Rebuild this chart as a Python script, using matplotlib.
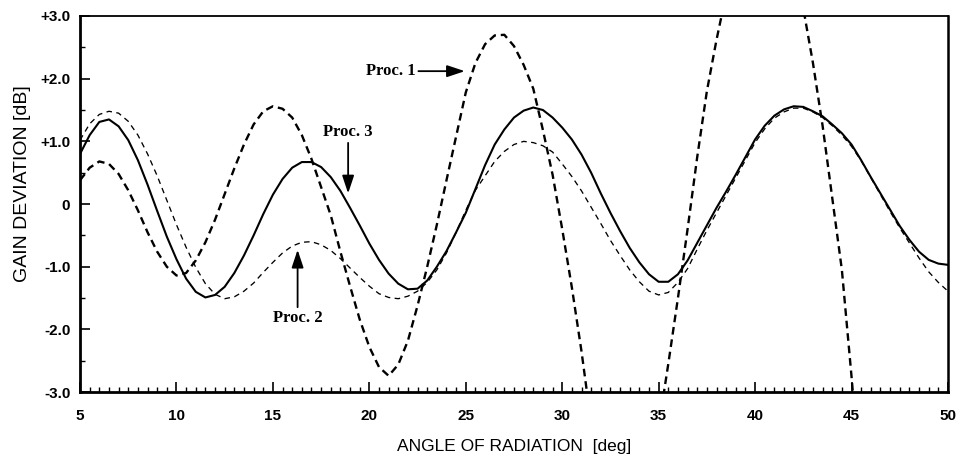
import numpy as np
import matplotlib.pyplot as plt
from matplotlib.ticker import MultipleLocator

plt.rcParams["lines.scale_dashes"] = False

# angle grid the curves were read on (deg)
angle = np.arange(5.0, 50.5, 0.5)

# Proc. 1 - thick dashed, runs off the axes between 31 and 45 deg
proc1 = [0.38, 0.58, 0.68, 0.64, 0.48, 0.22, -0.10, -0.45, -0.76, -1.00,
         -1.14, -1.10, -0.90, -0.61, -0.25, 0.16, 0.57, 0.95, 1.27, 1.48,
         1.56, 1.52, 1.38, 1.10, 0.72, 0.27, -0.18, -0.76, -1.31, -1.84,
         -2.28, -2.60, -2.74, -2.56, -2.18, -1.62, -1.00, -0.33, 0.38, 1.08,
         1.78, 2.25, 2.55, 2.69, 2.70, 2.52, 2.22, 1.84, 1.18, 0.47,
         -0.40, -1.33, -2.35, -3.50, -4.50, -5.20, -5.50, -5.50, -5.10, -4.40,
         -3.55, -2.55, -1.50, -0.40, 0.75, 1.80, 2.62, 3.35, 4.10, 4.60,
         4.90, 5.00, 4.90, 4.50, 3.90, 3.12, 2.25, 1.25, 0.10, -1.05,
         -2.75, -4.60]

# Proc. 2 - thin dashed
proc2 = [1.02, 1.28, 1.43, 1.48, 1.45, 1.32, 1.10, 0.80, 0.45, 0.06,
         -0.33, -0.69, -1.01, -1.27, -1.44, -1.51, -1.48, -1.39, -1.26, -1.09,
         -0.93, -0.78, -0.67, -0.61, -0.60, -0.65, -0.74, -0.87, -1.02, -1.17,
         -1.31, -1.43, -1.49, -1.51, -1.47, -1.39, -1.25, -1.05, -0.78, -0.45,
         -0.10, 0.22, 0.45, 0.68, 0.84, 0.95, 1.00, 0.98, 0.93, 0.83,
         0.64, 0.44, 0.21, -0.05, -0.31, -0.58, -0.82, -1.05, -1.24, -1.39,
         -1.45, -1.41, -1.25, -1.03, -0.72, -0.42, -0.14, 0.14, 0.42, 0.70,
         0.98, 1.20, 1.37, 1.47, 1.53, 1.53, 1.47, 1.38, 1.25, 1.10,
         0.92, 0.69, 0.42, 0.15, -0.12, -0.38, -0.62, -0.86, -1.08, -1.25,
         -1.39]

# Proc. 3 - solid
proc3 = [0.80, 1.10, 1.31, 1.35, 1.24, 1.02, 0.70, 0.31, -0.11, -0.52,
         -0.88, -1.19, -1.40, -1.49, -1.45, -1.32, -1.10, -0.82, -0.50, -0.16,
         0.15, 0.40, 0.58, 0.67, 0.67, 0.59, 0.43, 0.21, -0.06, -0.34,
         -0.63, -0.89, -1.11, -1.27, -1.36, -1.35, -1.22, -1.00, -0.75, -0.45,
         -0.14, 0.24, 0.62, 0.95, 1.19, 1.38, 1.49, 1.54, 1.50, 1.38,
         1.22, 1.03, 0.79, 0.50, 0.17, -0.14, -0.43, -0.70, -0.93, -1.12,
         -1.24, -1.24, -1.12, -0.90, -0.62, -0.34, -0.06, 0.20, 0.47, 0.75,
         1.03, 1.25, 1.41, 1.51, 1.56, 1.55, 1.48, 1.40, 1.27, 1.13,
         0.95, 0.70, 0.43, 0.17, -0.09, -0.35, -0.57, -0.76, -0.89, -0.95,
         -0.97]

y_ticks = [3, 2, 1, 0, -1, -2, -3]
y_tick_labels = ["+3.0", "+2.0", "+1.0", "0", "-1.0", "-2.0", "-3.0"]
x_ticks = [5, 10, 15, 20, 25, 30, 35, 40, 45, 50]

fig = plt.figure(figsize=(9.62, 4.57), dpi=100)
ax = fig.add_axes([0.0832, 0.142, 0.9022, 0.823])

ax.plot(angle[:len(proc1)], proc1, color="black", lw=1.7, dashes=(5.5, 3.5))
ax.plot(angle, proc2, color="black", lw=0.95, dashes=(4.0, 3.2))
ax.plot(angle, proc3, color="black", lw=1.5)

ax.set_xlim(5, 50)
ax.set_ylim(-3, 3)

# ticks point inwards like the old plotter output
ax.xaxis.set_major_locator(MultipleLocator(5))
ax.xaxis.set_minor_locator(MultipleLocator(0.5))
ax.yaxis.set_major_locator(MultipleLocator(1))
ax.yaxis.set_minor_locator(MultipleLocator(0.5))
ax.set_yticks(y_ticks)
ax.set_yticklabels(y_tick_labels)
ax.set_xticks(x_ticks)
ax.tick_params(which="major", direction="in", length=7, width=1.2,
               labelsize=11)
ax.tick_params(axis="x", which="major", pad=12)
ax.tick_params(axis="y", which="major", pad=7)
ax.tick_params(which="minor", direction="in", length=3.5, width=1.0)
for lab in ax.get_xticklabels() + ax.get_yticklabels():
    lab.set_fontweight("bold")
    lab.set_family("Liberation Sans")

ax.spines["left"].set_linewidth(2.0)
ax.spines["bottom"].set_linewidth(2.0)
ax.spines["right"].set_linewidth(1.8)
ax.spines["top"].set_linewidth(1.3)

ax.set_xlabel("ANGLE OF RADIATION  [deg]", fontsize=12.5, family="Liberation Sans",
              labelpad=12)
ax.set_ylabel("GAIN DEVIATION [dB]", fontsize=14, family="Liberation Sans")
ax.yaxis.set_label_coords(-0.056, 0.555)

# labels with arrows
lbl = dict(fontsize=12, fontweight="bold", family="Liberation Serif")
arr = dict(arrowstyle="-|>,head_length=0.9,head_width=0.3", color="black",
           lw=1.3, shrinkA=0, shrinkB=0)
ax.annotate("Proc. 1", xy=(24.95, 2.12), xytext=(22.4, 2.12),
            ha="right", va="center", arrowprops=arr, **lbl)
ax.annotate("Proc. 3", xy=(18.9, 0.17), xytext=(18.9, 1.02),
            ha="center", va="bottom", arrowprops=arr, **lbl)
ax.annotate("Proc. 2", xy=(16.28, -0.73), xytext=(16.28, -1.69),
            ha="center", va="top", arrowprops=arr, **lbl)

fig.savefig("out.png", dpi=100)
